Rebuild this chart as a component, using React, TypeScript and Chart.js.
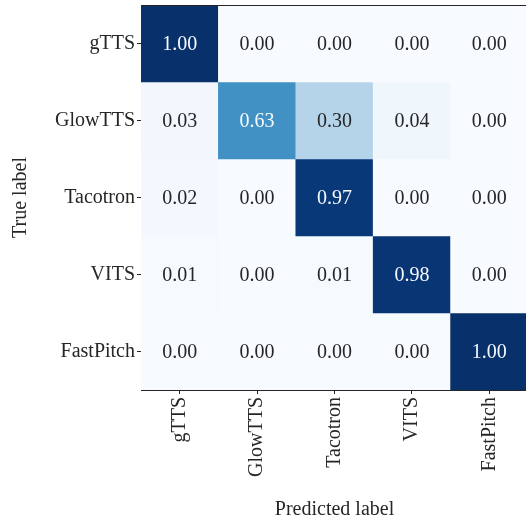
import React, { useEffect, useRef } from "react";
import { Chart, registerables } from "chart.js";

Chart.register(...registerables);

const predictedLabels = ["gTTS", "GlowTTS", "Tacotron", "VITS", "FastPitch"];
const trueLabels = ["gTTS", "GlowTTS", "Tacotron", "VITS", "FastPitch"];

const rowGTTS = [1.0, 0.0, 0.0, 0.0, 0.0];
const rowGlowTTS = [0.03, 0.63, 0.3, 0.04, 0.0];
const rowTacotron = [0.02, 0.0, 0.97, 0.0, 0.0];
const rowVITS = [0.01, 0.0, 0.01, 0.98, 0.0];
const rowFastPitch = [0.0, 0.0, 0.0, 0.0, 1.0];

const matrix = [rowGTTS, rowGlowTTS, rowTacotron, rowVITS, rowFastPitch];

const BLUES = [
  [247, 251, 255],
  [222, 235, 247],
  [198, 219, 239],
  [158, 202, 225],
  [107, 174, 214],
  [66, 146, 198],
  [33, 113, 181],
  [8, 81, 156],
  [8, 48, 107],
];

function blues(v: number): number[] {
  const t = Math.max(0, Math.min(1, v)) * (BLUES.length - 1);
  const i = Math.min(BLUES.length - 2, Math.floor(t));
  const f = t - i;
  return BLUES[i].map((c, k) => Math.round(c + (BLUES[i + 1][k] - c) * f));
}
function rgb(c: number[]) {
  return `rgb(${c[0]},${c[1]},${c[2]})`;
}
function textColor(v: number) {
  const c = blues(v).map((x) => {
    const s = x / 255;
    return s <= 0.03928 ? s / 12.92 : Math.pow((s + 0.055) / 1.055, 2.4);
  });
  const lum = 0.2126 * c[0] + 0.7152 * c[1] + 0.0722 * c[2];
  return lum > 0.408 ? "#262626" : "#f7fbff";
}

const FONT = "'Liberation Serif', 'DejaVu Serif', serif";

export default function App() {
  const ref = useRef<HTMLCanvasElement | null>(null);
  useEffect(() => {
    if (!ref.current) return;
    document.body.style.overflow = "hidden";
    const datasets = matrix.map((row, i) => ({
      label: trueLabels[i],
      data: predictedLabels.map(() => [i - 0.5, i + 0.5] as [number, number]),
      backgroundColor: row.map((v) => rgb(blues(v))),
      borderWidth: 0,
      barPercentage: 1,
      categoryPercentage: 1,
      grouped: false,
    }));

    const annotate = {
      id: "annotate",
      afterDatasetsDraw(chart: any) {
        const { ctx, scales } = chart;
        ctx.save();
        ctx.font = `20px ${FONT}`;
        ctx.textAlign = "center";
        ctx.textBaseline = "middle";
        matrix.forEach((row, i) => {
          row.forEach((v, j) => {
            const x = scales.x.getPixelForValue(j);
            const y = scales.y.getPixelForValue(i);
            ctx.fillStyle = textColor(v);
            ctx.fillText(v.toFixed(2), x, y + 1);
          });
        });
        const a = chart.chartArea;
        ctx.strokeStyle = "#262626";
        ctx.lineWidth = 1;
        ctx.beginPath();
        ctx.moveTo(a.left, Math.round(a.top) + 0.5);
        ctx.lineTo(a.right, Math.round(a.top) + 0.5);
        ctx.stroke();
        ctx.restore();
      },
    };

    const chart = new Chart(ref.current, {
      type: "bar",
      data: { labels: predictedLabels, datasets: datasets as any },
      plugins: [annotate],
      options: {
        animation: false,
        responsive: true,
        maintainAspectRatio: false,
        layout: { padding: { top: 5, right: 2, left: 0, bottom: 0 } },
        plugins: { legend: { display: false }, tooltip: { enabled: false } },
        scales: {
          x: {
            type: "category",
            offset: true,
            afterFit(scale: any) {
              scale.height = 135;
              scale.paddingLeft = 0;
              scale.paddingRight = 0;
            },
            grid: {
              offset: false,
              drawOnChartArea: false,
              drawTicks: true,
              tickLength: 4,
              color: "#262626",
            },
            border: { display: true, color: "#262626", width: 1 },
            ticks: {
              maxRotation: 90,
              minRotation: 90,
              padding: 3,
              color: "#262626",
              font: { family: FONT, size: 20 },
            },
            title: {
              display: true,
              text: "Predicted label",
              color: "#262626",
              font: { family: FONT, size: 20 },
              padding: { top: 0, bottom: 3 },
            },
          },
          y: {
            type: "linear",
            reverse: true,
            min: -0.5,
            max: 4.5,
            afterFit(scale: any) {
              scale.width = 141;
              scale.paddingTop = 0;
              scale.paddingBottom = 0;
            },
            afterBuildTicks(scale: any) {
              scale.ticks = [0, 1, 2, 3, 4].map((v) => ({ value: v }));
            },
            grid: {
              drawOnChartArea: false,
              drawTicks: true,
              tickLength: 4,
              color: "#262626",
            },
            border: { display: true, color: "#262626", width: 1 },
            ticks: {
              padding: 2,
              color: "#262626",
              font: { family: FONT, size: 20 },
              callback: (v: any) => trueLabels[Number(v)] ?? "",
            },
            title: {
              display: true,
              text: "True label",
              color: "#262626",
              font: { family: FONT, size: 20 },
              padding: { top: 9, bottom: 0 },
            },
          },
        },
      },
    });
    return () => chart.destroy();
  }, []);

  return (
    <div style={{ position: "fixed", left: 0, top: 0, width: 530, height: 525 }}>
      <canvas ref={ref} />
    </div>
  );
}
